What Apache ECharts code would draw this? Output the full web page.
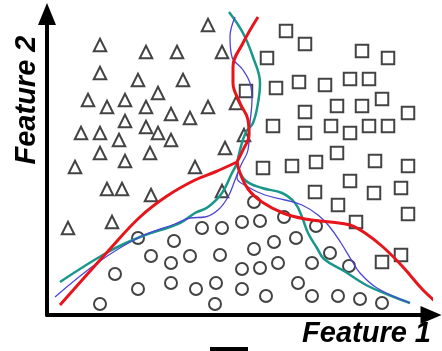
<!DOCTYPE html>
<html>
<head>
<meta charset="utf-8">
<script src="https://cdn.jsdelivr.net/npm/echarts@6/dist/echarts.min.js"></script>
<style>
html, body { margin: 0; padding: 0; background: #fff; }
#chart { width: 442px; height: 351px; }
</style>
</head>
<body>
<div id="chart"></div>
<script>
// samples of the three classes, [feature1, feature2]
const triangles = [
    [53, 270], [99, 263], [130, 263], [161, 290], [53, 242], [91, 235], [136, 235], [175, 263],
    [41, 215], [60, 208], [78, 215], [99, 208], [111, 222], [124, 201], [143, 197], [161, 208],
    [189, 212], [78, 194], [99, 188], [111, 182], [124, 175], [34, 182], [53, 182], [72, 175],
    [53, 162], [78, 154], [103, 162], [28, 148], [197, 180], [178, 167], [148, 148], [60, 126],
    [75, 126], [104, 120], [21, 87], [65, 93], [175, 124]
]
const squares = [
    [239, 284], [258, 271], [220, 257], [315, 264], [341, 257], [199, 224], [229, 227], [252, 233],
    [278, 230], [303, 236], [322, 236], [335, 216], [258, 203], [290, 209], [315, 209], [361, 202],
    [226, 189], [258, 182], [284, 189], [303, 182], [322, 189], [341, 189], [290, 162], [269, 153],
    [245, 149], [216, 147], [328, 154], [361, 149], [303, 134], [268, 123], [327, 122], [354, 127],
    [291, 110], [309, 93], [361, 101], [354, 60], [335, 53]
]
const circles = [
    [91, 77], [127, 74], [104, 59], [124, 52], [143, 59], [68, 41], [91, 26], [124, 32],
    [149, 26], [53, 11], [155, 87], [175, 87], [173, 60], [169, 32], [168, 11], [207, 113],
    [195, 93], [213, 94], [237, 98], [269, 89], [207, 66], [227, 73], [249, 77], [195, 46],
    [213, 47], [231, 52], [265, 52], [195, 26], [219, 19], [251, 32], [265, 19], [283, 62],
    [302, 49], [291, 19], [313, 16], [335, 12]
]

// decision boundaries, each as three branches leaving the junction
const redBoundary = [
    [[190, 153], [168, 143], [148, 135], [120, 119], [93, 98], [63, 66], [13, 10]],
    [[190, 153], [196, 165], [202, 180], [201, 195], [193, 212], [186, 232], [186, 248], [196, 272], [211, 298]],
    [[190, 153], [193, 142], [201, 126], [215, 113], [236, 102], [258, 96], [283, 93], [303, 90], [318, 82], [336, 68], [356, 48], [376, 25], [395, 8]]
]
const tealBoundary = [
    [[190, 151], [185, 142], [175, 122], [161, 108], [148, 102], [133, 92], [93, 78], [61, 63], [13, 33]],
    [[190, 151], [193, 165], [199, 183], [206, 192], [211, 212], [213, 232], [206, 258], [196, 282], [182, 303]],
    [[190, 151], [198, 135], [215, 127], [235, 122], [248, 112], [255, 98], [261, 82], [270, 67], [277, 56], [297, 44], [319, 30], [342, 20], [363, 12]]
]
const blueBoundary = [
    [[191, 143], [188, 135], [181, 118], [171, 105], [158, 98], [143, 97], [128, 91], [93, 78], [53, 54], [8, 18]],
    [[191, 143], [195, 152], [201, 165], [203, 192], [205, 215], [203, 232], [196, 245], [185, 258], [183, 278], [188, 298]],
    [[191, 143], [190, 137], [201, 128], [218, 120], [238, 115], [255, 110], [271, 100], [282, 89], [294, 72], [305, 54], [313, 42], [330, 27], [363, 12]]
]

const chart = echarts.init(document.getElementById('chart'))

const nameFont = {
    fontFamily: 'Liberation Sans',
    fontSize: 29,
    fontWeight: 'bold',
    fontStyle: 'italic',
    color: '#000'
}

function samples (data, symbol, size) {
    return {
        type: 'scatter',
        data: data,
        symbol: symbol,
        symbolSize: size,
        clip: false,
        silent: true,
        z: 2,
        itemStyle: {
            color: '#fff',
            borderColor: '#141414',
            borderWidth: 2
        }
    }
}

function boundary (branches, color, width, z) {
    return branches.map(pts => ({
        type: 'line',
        data: pts,
        smooth: 0.4,
        symbol: 'none',
        clip: false,
        silent: true,
        z: z,
        lineStyle: { color: color, width: width }
    }))
}

const axisLine = {
    show: true,
    symbol: ['none', 'triangle'],
    lineStyle: { color: '#000', width: 4 }
}

const option = {
    animation: false,
    backgroundColor: '#fff',
    grid: { left: 47, right: 11, top: 14, bottom: 36 },
    xAxis: {
        type: 'value',
        min: 0,
        max: 384,
        name: 'Feature 1',
        nameLocation: 'end',
        nameGap: 0,
        nameTextStyle: Object.assign({ align: 'right', verticalAlign: 'top', padding: [4, 0, 0, 0] }, nameFont),
        axisLine: Object.assign({ symbolSize: [18, 21] }, axisLine),
        axisTick: { show: false },
        axisLabel: { show: false },
        splitLine: { show: false }
    },
    yAxis: {
        type: 'value',
        min: 0,
        max: 301,
        name: 'Feature 2',
        nameLocation: 'end',
        nameGap: -86,
        nameRotate: 90,
        nameTextStyle: Object.assign({ align: 'center', verticalAlign: 'bottom', padding: [0, 0, 6, 0] }, nameFont),
        axisLine: Object.assign({ symbolSize: [18, 22] }, axisLine),
        axisTick: { show: false },
        axisLabel: { show: false },
        splitLine: { show: false }
    },
    graphic: [
        { type: 'rect', left: 210, top: 347, shape: { width: 38, height: 4 }, style: { fill: '#000' } }
    ],
    series: [
        samples(triangles, 'triangle', [12.5, 12.5]),
        samples(squares, 'rect', 12.5),
        samples(circles, 'circle', 12)
    ].concat(
        boundary(tealBoundary, '#19978a', 2.5, 3),
        boundary(blueBoundary, '#4c46d6', 1.3, 4),
        boundary(redBoundary, '#e8141c', 3, 5)
    )
}

chart.setOption(option)
</script>
</body>
</html>
